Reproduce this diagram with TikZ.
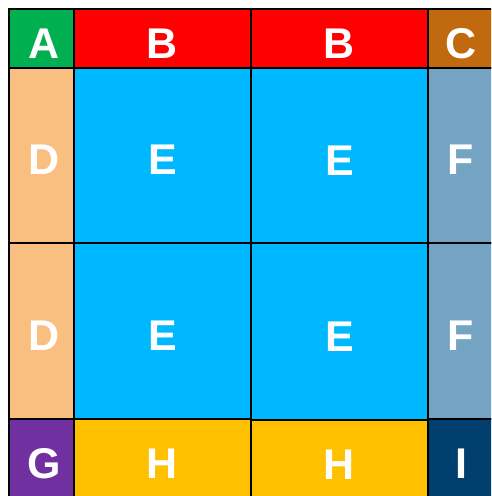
\documentclass[tikz,border=0pt]{standalone}
\usepackage{fontspec}
\setmainfont{Liberation Sans}
\definecolor{cA}{HTML}{00B050}
\definecolor{cB}{HTML}{FF0000}
\definecolor{cC}{HTML}{C0690E}
\definecolor{cD}{HTML}{F8BF80}
\definecolor{cE}{HTML}{00B8FF}
\definecolor{cF}{HTML}{75A3C3}
\definecolor{cG}{HTML}{7030A0}
\definecolor{cH}{HTML}{FFC000}
\definecolor{cI}{HTML}{003F6E}
\tikzset{
  cell/.style={draw=black, line width=2pt, inner sep=0pt, text=white,
    font=\fontsize{43}{43}\selectfont\bfseries, text height=39pt, text depth=0pt,
    anchor=center},
  leftcell/.style={cell, execute at begin node=\hspace*{6pt}}
}
\begin{document}
\begin{tikzpicture}[x=1pt,y=-1pt]
\useasboundingbox (0,0) rectangle (491,496);
\clip (0,0) rectangle (491,496);
\fill[white] (0,0) rectangle (491,496);
% top row
\node[leftcell, fill=cA, minimum width=65pt, minimum height=59pt] (A) at (41.5,38.5) {A};
\node[cell, fill=cB, minimum width=177pt, minimum height=59pt] (B1) at (162.5,38.5) {B};
\node[cell, fill=cB, minimum width=177pt, minimum height=59pt] (B2) at (339.5,38.5) {B};
\node[cell, fill=cC, minimum width=66pt, minimum height=59pt] (C) at (461,38.5) {C};
% row 1
\node[leftcell, fill=cD, minimum width=65pt, minimum height=174.5pt] (D1) at (41.5,155.25) {D};
\node[cell, fill=cE, minimum width=177pt, minimum height=174.5pt] (E1) at (162.5,155.25) {E};
\node[cell, fill=cE, minimum width=177pt, minimum height=175pt] (E2) at (339.5,155.5) {E};
\node[cell, fill=cF, minimum width=66pt, minimum height=174.5pt] (F1) at (461,155.25) {F};
% row 2
\node[leftcell, fill=cD, minimum width=65pt, minimum height=176pt] (D2) at (41.5,330.5) {D};
\node[cell, fill=cE, minimum width=177pt, minimum height=176pt] (E3) at (162.5,330.5) {E};
\node[cell, fill=cE, minimum width=177pt, minimum height=177pt] (E4) at (339.5,331.5) {E};
\node[cell, fill=cF, minimum width=66pt, minimum height=176pt] (F2) at (461,330.5) {F};
% bottom row
\node[leftcell, fill=cG, minimum width=65pt, minimum height=80.5pt] (G) at (41.5,458.75) {G};
\node[cell, fill=cH, minimum width=177pt, minimum height=80.5pt] (H1) at (162.5,458.75) {H};
\node[cell, fill=cH, minimum width=177pt, minimum height=79pt] (H2) at (339.5,459.5) {H};
\node[cell, fill=cI, minimum width=66pt, minimum height=80.5pt] (I) at (461,458.75) {I};
\end{tikzpicture}
\end{document}
